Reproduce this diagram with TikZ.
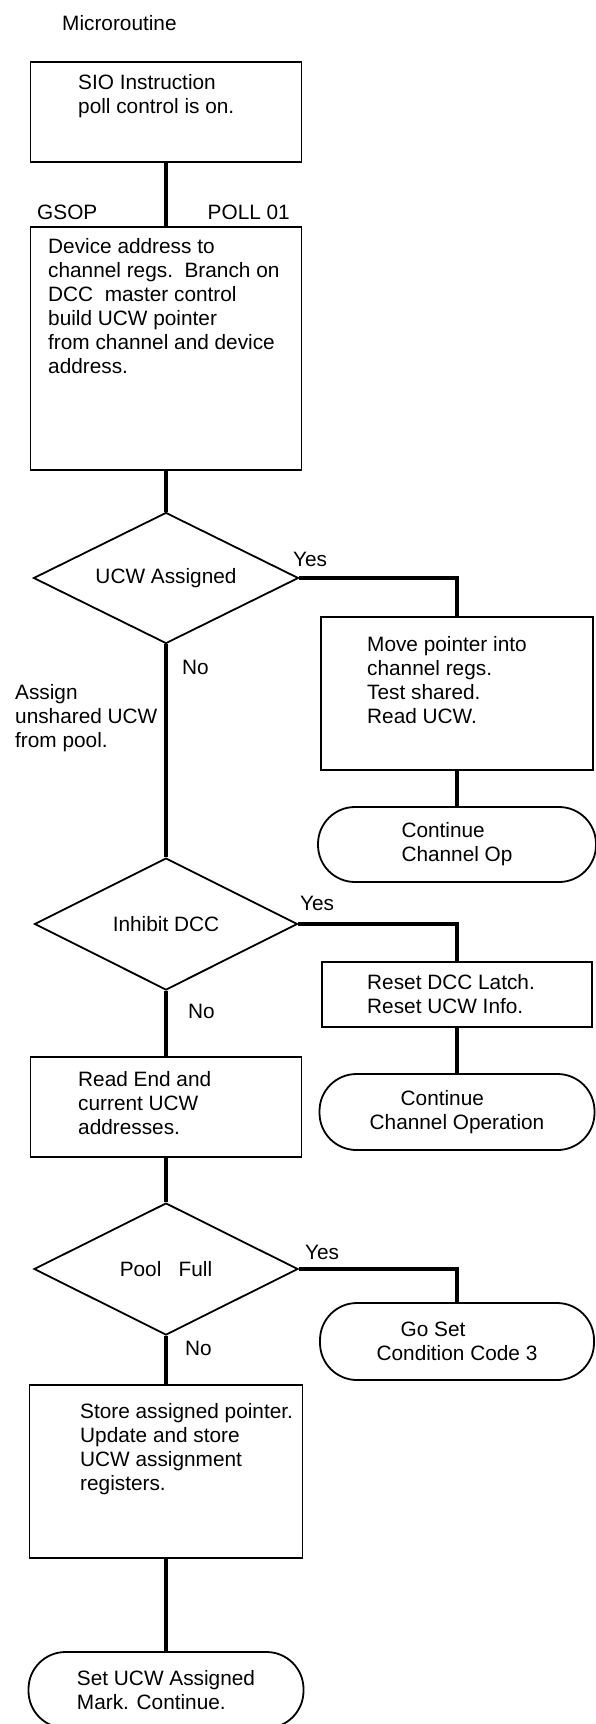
\documentclass[tikz,border=0pt]{standalone}
\usepackage{fontspec}
\setmainfont{Liberation Sans}
\usetikzlibrary{shapes.geometric}

\tikzset{
    stepbox/.style={draw, black, line width=1.8pt, minimum width=271pt, inner sep=0pt},
    decision/.style={diamond, draw, black, line width=1.8pt, aspect=2, inner sep=0pt,
                     minimum width=264pt, minimum height=132pt},
    terminal/.style={draw, black, line width=1.8pt, rounded corners=37pt, align=left,
                     minimum width=276pt, minimum height=76pt, inner sep=0pt},
    link/.style={black, line width=3.2pt},
    boxtext/.style={anchor=north west, align=left, inner sep=0pt},
    tag/.style={anchor=west, inner sep=0pt},
}

\begin{document}
\begin{tikzpicture}[x=1pt, y=-1pt, font=\fontsize{20.8}{24}\selectfont]

    % Page size (y runs downwards)
    \useasboundingbox (0,0) rectangle (595,1724);

    % Heading
    \node[tag] (title) at (62,23) {Microroutine};

    % Entry box
    \node[stepbox, minimum height=100pt] (sio) at (166,112) {};
    \node[boxtext] (siotext) at (78,74.5) {SIO Instruction\\poll control is on.};

    % Routine name and step label on the spine
    \node[tag] (gsop) at (37,212) {GSOP};
    \node[tag, anchor=east] (poll) at (290,212) {POLL 01};

    % Build the UCW pointer
    \node[stepbox, minimum height=243pt] (dev) at (166,348.5) {};
    \node[boxtext] (devtext) at (48,238.5) {Device address to\\channel regs.\ \ Branch on\\DCC\ \ master control\\build UCW pointer\\from channel and device\\address.};

    % First test
    \node[decision, minimum width=265pt, minimum height=131pt] (ucw) at (166,578) {UCW Assigned};
    \node[tag] (yes1) at (293,559) {Yes};
    \node[tag] (no1) at (182,667) {No};
    \node[boxtext] (assign) at (15,684.5) {Assign\\unshared UCW\\from pool.};

    % Yes branch of the first test
    \node[stepbox, minimum width=272pt, minimum height=153pt] (mov) at (457,693.5) {};
    \node[boxtext] (movtext) at (367,636.5) {Move pointer into\\channel regs.\\Test shared.\\Read UCW.};
    \node[terminal, minimum width=278pt, minimum height=75pt] (cont1) at (457,844.5) {Continue\\Channel Op};

    % Second test
    \node[decision, minimum width=263pt] (inh) at (166,924) {Inhibit DCC};
    \node[tag] (yes2) at (300,903) {Yes};
    \node[tag] (no2) at (188,1011) {No};

    % Yes branch of the second test
    \node[stepbox, minimum width=270pt, minimum height=65pt] (rst) at (457,994.5) {};
    \node[boxtext] (rsttext) at (367,974.5) {Reset DCC Latch.\\Reset UCW Info.};
    \node[terminal, minimum width=275pt] (cont2) at (457,1112) {\hspace*{31pt}Continue\\Channel Operation};

    % No branch of the second test
    \node[stepbox, minimum height=100pt] (rd) at (166,1107) {};
    \node[boxtext] (rdtext) at (78,1071.5) {Read End and\\current UCW\\addresses.};

    % Third test
    \node[decision] (pool) at (166,1269) {Pool~~~Full};
    \node[tag] (yes3) at (305,1252) {Yes};
    \node[tag] (no3) at (185,1348) {No};
    \node[terminal, minimum width=274pt, minimum height=77pt] (cc3) at (457,1341.5) {\hspace*{24pt}Go Set\\Condition Code 3};

    % Last step and exit
    \node[stepbox, minimum width=273pt, minimum height=173pt] (sto) at (166,1471.5) {};
    \node[boxtext] (stotext) at (80,1403.5) {Store assigned pointer.\\Update and store\\UCW assignment\\registers.};
    \node[terminal, minimum width=275pt] (set) at (166,1690) {Set UCW Assigned\\Mark. Continue.};

    % Main spine
    \draw[link] (sio) -- (dev);
    \draw[link] (dev) -- (ucw);
    \draw[link] (ucw) -- (inh);
    \draw[link] (inh) -- (rd);
    \draw[link] (rd) -- (pool);
    \draw[link] (pool) -- (sto);
    \draw[link] (sto) -- (set);

    % Yes branches
    \draw[link] (ucw.east) -| (mov);
    \draw[link] (mov) -- (cont1);
    \draw[link] (inh.east) -| (rst);
    \draw[link] (rst) -- (cont2);
    \draw[link] (pool.east) -| (cc3);

\end{tikzpicture}
\end{document}
